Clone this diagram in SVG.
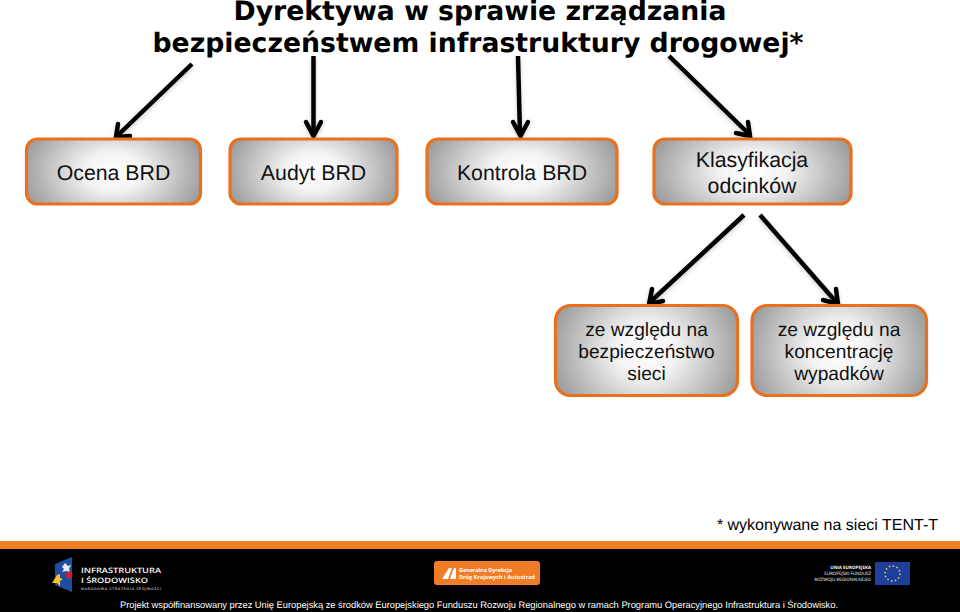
<svg xmlns="http://www.w3.org/2000/svg" width="960" height="612" viewBox="0 0 960 612">
<style>
text{text-rendering:geometricPrecision}
.t{font-family:"Liberation Sans",Arial,sans-serif;font-size:21.300px;fill:#111;text-anchor:middle}
.s{font-size:19.200px}
.h{font-family:"DejaVu Sans",Verdana,sans-serif;font-weight:bold;font-size:26.700px;fill:#000;text-anchor:middle}
.b{fill:url(#g);stroke:#e8701e;stroke-width:3.200}
.a{fill:none;stroke:#000;stroke-width:4.500}
.ah{fill:none;stroke:#000;stroke-width:4.500;stroke-linecap:round;stroke-linejoin:miter}
.l{font-family:"Open Sans","Liberation Sans",sans-serif;fill:#fff}
</style>
<defs>
<radialGradient id="g" cx="0.5" cy="0.5" r="1" gradientTransform="translate(.5 .5) scale(.56 1) translate(-.5 -.5)"><stop offset="0" stop-color="#fff"/><stop offset="0.3" stop-color="#f3f3f3"/><stop offset="1" stop-color="#969696"/></radialGradient>
<filter id="s" x="-20%" y="-20%" width="140%" height="140%"><feDropShadow dx="0" dy="2" stdDeviation="2" flood-color="#000" flood-opacity="0.2"/></filter>
</defs>
<rect width="960" height="612" fill="#fff"/>
<g id="title"><text class="h" x="480" y="20">Dyrektywa w sprawie zrządzania</text><text class="h" x="478" y="52">bezpieczeństwem infrastruktury drogowej*</text></g>
<g id="connectors" filter="url(#s)">
<path class="a" d="M192 64L116 137"/><path class="ah" d="M118 124L116 137L130 136"/>
<path class="a" d="M313.500 56V135"/><path class="ah" d="M306 122L313.500 136L321 122"/>
<path class="a" d="M518 56L520 135"/><path class="ah" d="M513 122L520.500 136L528 122"/>
<path class="a" d="M669 56L750 135"/><path class="ah" d="M736 133L750 136L748 122"/>
<path class="a" d="M744 215L649 303"/><path class="ah" d="M652 289L649 304L663 301"/>
<path class="a" d="M760 215L837 303"/><path class="ah" d="M823 300L838 304L836 289"/>
</g>
<g id="n1"><rect class="b" x="26.500" y="139" width="174" height="65" rx="11"/><text class="t" x="113.500" y="180">Ocena BRD</text></g>
<g id="n2"><rect class="b" x="230" y="139" width="167" height="65" rx="11"/><text class="t" x="313.500" y="180">Audyt BRD</text></g>
<g id="n3"><rect class="b" x="427" y="139" width="190" height="65" rx="11"/><text class="t" x="522" y="180">Kontrola BRD</text></g>
<g id="n4"><rect class="b" x="654" y="139" width="197" height="65" rx="11"/><text class="t" x="752" y="167">Klasyfikacja</text><text class="t" x="752" y="193">odcinków</text></g>
<g id="n5"><rect class="b" x="555.500" y="305.500" width="182" height="90" rx="15"/><text class="t s" x="646.500" y="336">ze względu na</text><text class="t s" x="646.500" y="358">bezpieczeństwo</text><text class="t s" x="646.500" y="380">sieci</text></g>
<g id="n6"><rect class="b" x="752" y="305.500" width="174.500" height="90" rx="15"/><text class="t s" x="839" y="336">ze względu na</text><text class="t s" x="839" y="358">koncentrację</text><text class="t s" x="839" y="380">wypadków</text></g>
<text x="938" y="530" text-anchor="end" style="font-family:'Liberation Sans',sans-serif;font-size:16px;fill:#000">* wykonywane na sieci TENT-T</text>
<rect x="0" y="541" width="960" height="8" fill="#f08024"/>
<rect x="0" y="549" width="960" height="63" fill="#000"/>
<g id="logo1">
<path d="M55 564L72 557V592L55 585Z" fill="#1c4fa0"/>
<path d="M62 567L65 563L68 566L71 565L69 569L70 572L66 571L62 572L64 569Z" fill="#e8e8f0"/>
<path d="M52 583L57 575L60 574L60 578L63 579L60 581L60 586L57 583Z" fill="#f5c32c"/>
<circle cx="69" cy="575" r="3.500" fill="#c8202c"/>
<text class="l" x="81" y="572.500" style="font-size:7.500px;font-weight:600" textLength="80" lengthAdjust="spacingAndGlyphs">INFRASTRUKTURA</text>
<text class="l" x="81" y="583" style="font-size:7.500px;font-weight:600" textLength="67" lengthAdjust="spacingAndGlyphs">I ŚRODOWISKO</text>
<text class="l" x="81" y="589.500" style="font-size:3.500px" textLength="80">NARODOWA STRATEGIA SPÓJNOŚCI</text>
</g>
<g id="logo2">
<rect x="434" y="561" width="106" height="24" rx="3" fill="#f07c28"/>
<path d="M442 579L449 568H452L448 579ZM450 579L454 568H456L456 579Z" fill="#fff"/>
<text class="l" x="459" y="572" style="font-size:5.500px;font-weight:bold" textLength="53">Generalna Dyrekcja</text>
<text class="l" x="459" y="579" style="font-size:5.500px;font-weight:bold" textLength="76">Dróg Krajowych i Autostrad</text>
</g>
<g id="logo3">
<text class="l" x="871" y="569" text-anchor="end" style="font-size:4.500px;font-weight:bold">UNIA EUROPEJSKA</text>
<text class="l" x="871" y="575" text-anchor="end" style="font-size:4.500px">EUROPEJSKI FUNDUSZ</text>
<text class="l" x="871" y="581" text-anchor="end" style="font-size:4.500px">ROZWOJU REGIONALNEGO</text>
<rect x="875" y="562" width="35" height="23" fill="#1f3f9c"/>
<circle cx="892.500" cy="573.500" r="7.500" fill="none" stroke="#f5d72c" stroke-width="1.500" stroke-dasharray="1.500 2.430"/>
</g>
<text x="479" y="608" text-anchor="middle" style="font-family:'Liberation Sans',sans-serif;font-size:9.350px;fill:#fff" textLength="718">Projekt współfinansowany przez Unię Europejską ze środków Europejskiego Funduszu Rozwoju Regionalnego w ramach Programu Operacyjnego Infrastruktura i Środowisko.</text>
</svg>
